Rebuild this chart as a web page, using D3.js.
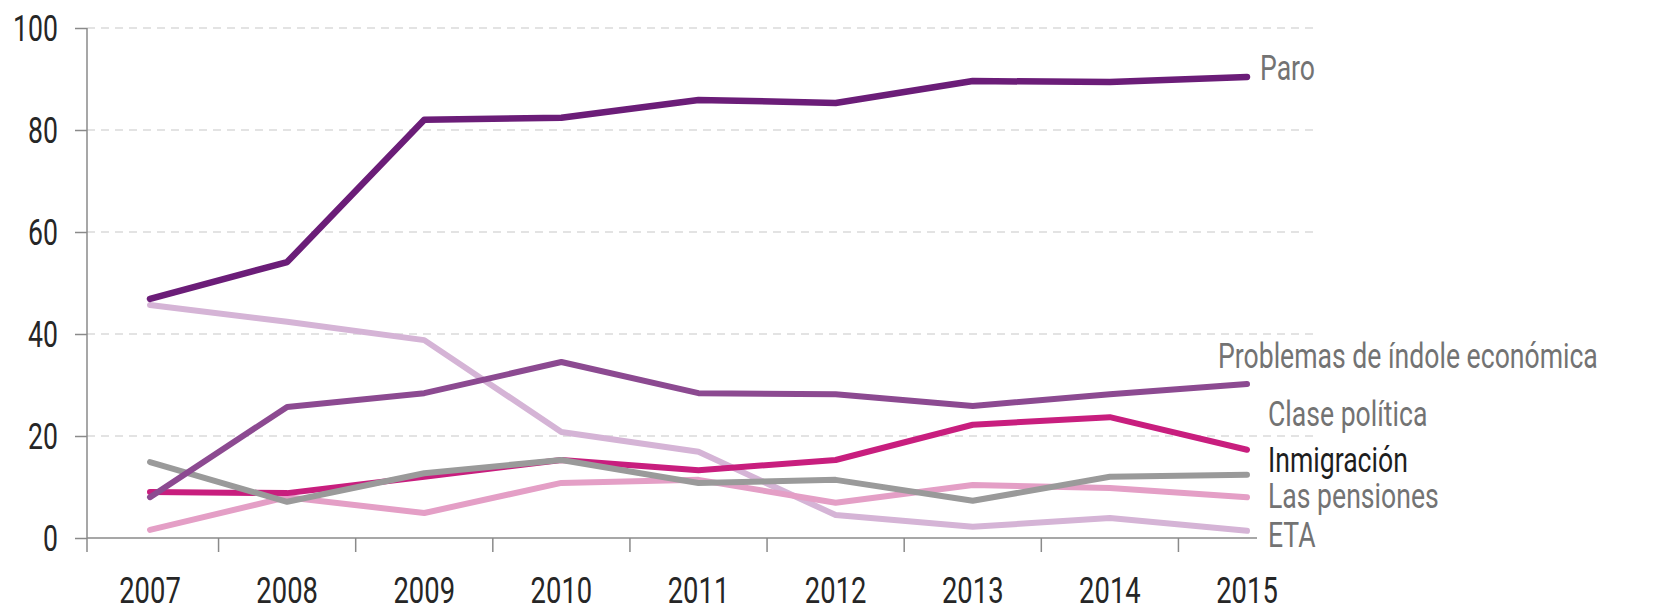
<!DOCTYPE html>
<html>
<head>
<meta charset="utf-8">
<script src="https://cdn.jsdelivr.net/npm/d3@7"></script>
<style>
  html, body { margin: 0; padding: 0; background: #fff; }
  text { font-family: Roboto, "Noto Sans", sans-serif; }
</style>
</head>
<body>
<div id="chart"></div>
<script>
const years = ["2007", "2008", "2009", "2010", "2011", "2012", "2013", "2014", "2015"];
const yTicks = [0, 20, 40, 60, 80, 100];

const paro        = [46.9, 54.1, 82.0, 82.4, 85.9, 85.3, 89.6, 89.4, 90.4];
const economicos  = [8.0, 25.7, 28.4, 34.5, 28.4, 28.2, 25.9, 28.2, 30.2];
const clasePol    = [9.0, 8.8, 12.0, 15.3, 13.3, 15.3, 22.2, 23.7, 17.3];
const inmigracion = [14.9, 7.1, 12.7, 15.3, 10.8, 11.4, 7.3, 12.0, 12.4];
const pensiones   = [1.6, 8.0, 4.9, 10.8, 11.4, 6.9, 10.4, 9.8, 8.0];
const eta         = [45.7, 42.4, 38.8, 20.8, 16.9, 4.5, 2.2, 3.9, 1.4];

// orden de dibujo: de abajo arriba
const series = [
  { name: "ETA", values: eta, color: "#d5b4d6", width: 6, label: "ETA", ly: 547, lc: "#737373" },
  { name: "Las pensiones", values: pensiones, color: "#e49fc6", width: 6, label: "Las pensiones", ly: 508, lc: "#737373" },
  { name: "Clase política", values: clasePol, color: "#c81e7e", width: 6, label: "Clase política", ly: 426, lc: "#737373" },
  { name: "Inmigración", values: inmigracion, color: "#9a9a9a", width: 6, label: "Inmigración", ly: 472, lc: "#1e1e1e" },
  { name: "Problemas de índole económica", values: economicos, color: "#8c4a91", width: 6, label: "Problemas de índole económica", ly: 368, lc: "#737373", lx: 1218 },
  { name: "Paro", values: paro, color: "#6b1d78", width: 6.5, label: "Paro", ly: 80, lc: "#737373", lx: 1260 }
];

const width = 1659, height = 610;
const left = 87, right = 1257, gridRight = 1313;

const svg = d3.select("#chart").append("svg")
  .attr("width", width)
  .attr("height", height);

const x = d3.scalePoint().domain(years).range([150, 1247]);
const y = d3.scaleLinear().domain([0, 100]).range([538, 28]);

// texto condensado: escala horizontal alrededor del ancla
function condensed(sel, px, py, sx) {
  return sel.attr("transform", (d, i) => `translate(${px(d, i)},${py(d, i)}) scale(${sx},1)`);
}

// rejilla punteada
svg.append("g")
  .selectAll("line")
  .data(yTicks.filter(d => d > 0))
  .enter().append("line")
  .attr("x1", left).attr("x2", gridRight)
  .attr("y1", d => y(d)).attr("y2", d => y(d))
  .attr("stroke", "#dadada")
  .attr("stroke-width", 1.5)
  .attr("stroke-dasharray", "8,6");

// eje Y
const yAxis = svg.append("g")
  .attr("transform", `translate(${left},0)`)
  .call(d3.axisLeft(y).tickValues(yTicks).tickSize(12).tickFormat(""));
yAxis.select(".domain").remove();
yAxis.append("line")
  .attr("x1", 0).attr("x2", 0)
  .attr("y1", y(100)).attr("y2", 552)
  .attr("stroke", "#8a8a8a").attr("stroke-width", 1.5);
yAxis.selectAll(".tick line").attr("stroke", "#8a8a8a").attr("stroke-width", 1.5);

svg.append("g")
  .selectAll("text")
  .data(yTicks)
  .enter().append("text")
  .call(condensed, () => 58, d => y(d) + 13, 0.72)
  .attr("text-anchor", "end")
  .attr("fill", "#262626")
  .style("font-size", "37px")
  .text(d => d);

// eje X
const step = x.step();
svg.append("line")
  .attr("x1", left).attr("x2", right)
  .attr("y1", y(0)).attr("y2", y(0))
  .attr("stroke", "#8a8a8a").attr("stroke-width", 1.5);
svg.append("g")
  .selectAll("line")
  .data(years.slice(0, -1))
  .enter().append("line")
  .attr("x1", d => x(d) + step / 2).attr("x2", d => x(d) + step / 2)
  .attr("y1", y(0)).attr("y2", y(0) + 14)
  .attr("stroke", "#8a8a8a").attr("stroke-width", 1.5);
svg.append("g")
  .selectAll("text")
  .data(years)
  .enter().append("text")
  .call(condensed, d => x(d), () => 603, 0.74)
  .attr("text-anchor", "middle")
  .attr("fill", "#262626")
  .style("font-size", "37px")
  .text(d => d);

// líneas
const line = d3.line()
  .x((d, i) => x(years[i]))
  .y(d => y(d));

svg.append("g")
  .selectAll("path")
  .data(series)
  .enter().append("path")
  .attr("d", d => line(d.values))
  .attr("fill", "none")
  .attr("stroke", d => d.color)
  .attr("stroke-width", d => d.width)
  .attr("stroke-linejoin", "round")
  .attr("stroke-linecap", "round");

// etiquetas
svg.append("g")
  .selectAll("text")
  .data(series)
  .enter().append("text")
  .call(condensed, d => d.lx || 1268, d => d.ly, 0.76)
  .attr("fill", d => d.lc)
  .style("font-size", "35px")
  .text(d => d.label);
</script>
</body>
</html>
